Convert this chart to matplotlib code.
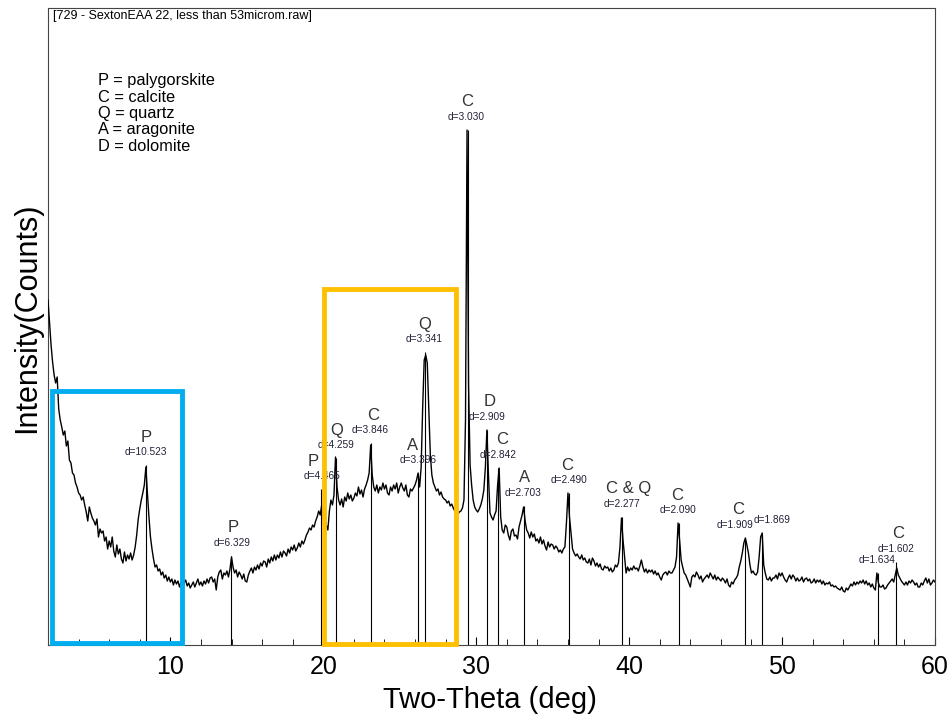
import matplotlib.pyplot as plt
from matplotlib.patches import Rectangle
import numpy as np

plt.rcParams['font.family'] = ['Liberation Sans', 'DejaVu Sans']

title = "[729 - SextonEAA 22, less than 53microm.raw]"
phases = ["P = palygorskite", "C = calcite", "Q = quartz", "A = aragonite", "D = dolomite"]

# scan from 2 to 60 deg, step 0.1 deg, intensity in arbitrary counts
two_theta = np.round(np.arange(2.0, 60.05, 0.1), 1)
counts = [
    345, 322, 300, 283, 270, 262, 268, 236, 225, 218,   # 2
    210, 214, 199, 204, 185, 182, 172, 170, 162, 158,   # 3
    152, 150, 145, 148, 140, 133, 124, 138, 132, 127,   # 4
    124, 120, 126, 108, 116, 112, 114, 104, 108, 96,    # 5
    104, 98, 108, 94, 88, 100, 91, 96, 86, 82,          # 6
    93, 84, 90, 86, 92, 85, 90, 98, 110, 126,           # 7
    136, 145, 152, 160, 178, 152, 128, 108, 96, 86,     # 8
    78, 80, 74, 76, 70, 73, 67, 70, 64, 68,             # 9
    63, 66, 60, 65, 61, 64, 58, 63, 53, 62,             # 10
    65, 59, 62, 57, 60, 63, 58, 62, 66, 60,             # 11
    63, 59, 64, 61, 66, 62, 67, 68, 63, 66,             # 12
    55, 68, 73, 75, 66, 72, 70, 74, 68, 76,             # 13
    88, 78, 72, 75, 68, 73, 70, 66, 71, 64,             # 14
    63, 70, 74, 77, 72, 78, 75, 80, 76, 82,             # 15
    79, 84, 83, 78, 86, 82, 88, 84, 90, 85,             # 16
    90, 87, 93, 88, 94, 92, 89, 96, 92, 98,             # 17
    95, 100, 94, 97, 102, 98, 104, 101, 105, 110,       # 18
    113, 117, 115, 120, 118, 124, 128, 134, 130, 140,   # 19
    122, 128, 120, 115, 134, 145, 140, 150, 188, 158,   # 20
    145, 140, 146, 138, 148, 144, 152, 146, 150, 144,   # 21
    147, 152, 149, 158, 151, 155, 148, 156, 160, 165,   # 22
    172, 200, 170, 158, 154, 160, 152, 158, 155, 162,   # 23
    156, 160, 152, 150, 158, 154, 160, 156, 162, 152,   # 24
    158, 162, 157, 154, 160, 150, 148, 156, 154, 157,   # 25
    160, 165, 172, 158, 178, 238, 285, 290, 282, 235,   # 26
    190, 170, 162, 158, 154, 156, 150, 153, 148, 146,   # 27
    145, 142, 144, 139, 141, 137, 134, 136, 131, 133,   # 28
    134, 137, 145, 225, 515, 260, 180, 160, 145, 138,   # 29
    135, 133, 136, 140, 146, 155, 178, 215, 170, 132,   # 30
    128, 125, 130, 134, 160, 177, 128, 115, 112, 120,   # 31
    118, 110, 105, 114, 116, 109, 110, 106, 118, 124,   # 32
    130, 138, 124, 115, 112, 107, 113, 108, 111, 104,   # 33
    106, 102, 108, 101, 105, 99, 95, 103, 98, 101,      # 34
    100, 96, 99, 97, 93, 95, 92, 96, 98, 122,           # 35
    152, 128, 112, 96, 92, 89, 91, 88, 86, 90,          # 36
    85, 87, 83, 82, 86, 80, 87, 84, 79, 82,             # 37
    78, 81, 76, 75, 79, 77, 78, 74, 77, 73,             # 38
    75, 80, 78, 82, 98, 127, 105, 88, 72, 78,           # 39
    74, 77, 75, 79, 76, 77, 74, 79, 85, 78,             # 40
    73, 76, 72, 75, 73, 75, 71, 74, 70, 72,             # 41
    68, 65, 70, 72, 73, 70, 74, 72, 72, 75,             # 42
    78, 88, 122, 105, 85, 78, 72, 70, 66, 62,           # 43
    58, 68, 70, 68, 73, 70, 66, 69, 63, 66,             # 44
    68, 70, 67, 72, 69, 66, 70, 65, 68, 66,             # 45
    64, 67, 65, 62, 66, 60, 58, 63, 61, 65,             # 46
    67, 70, 78, 84, 92, 102, 107, 100, 92, 80,          # 47
    72, 74, 71, 70, 73, 88, 108, 112, 80, 72,           # 48
    66, 65, 68, 64, 67, 67, 70, 66, 72, 69,             # 49
    72, 68, 65, 63, 67, 70, 66, 70, 68, 64,             # 50
    67, 64, 65, 68, 63, 66, 67, 64, 66, 62,             # 51
    63, 66, 62, 65, 63, 65, 61, 64, 60, 62,             # 52
    61, 63, 59, 60, 58, 59, 57, 56, 55, 58,             # 53
    54, 53, 57, 55, 58, 61, 59, 63, 60, 63,             # 54
    61, 64, 62, 65, 61, 64, 60, 62, 58, 61,             # 55
    57, 55, 72, 62, 58, 58, 60, 56, 57, 60,             # 56
    62, 64, 66, 63, 70, 77, 70, 67, 64, 62,             # 57
    60, 63, 60, 64, 62, 65, 63, 60, 62, 58,             # 58
    58, 62, 60, 64, 67, 62, 66, 60, 62, 65,             # 59
    63,                                                 # 60
]

# identified peaks
peak_pos = [8.40, 13.98, 19.87, 20.84, 23.11, 26.22, 26.66, 29.45, 30.71,
            31.45, 33.11, 36.04, 39.55, 43.25, 47.60, 48.68, 56.25, 57.48]
peak_height = [180, 89, 156, 187, 202, 172, 293, 515, 215,
               177, 139, 152, 128, 122, 107, 112, 72, 83]
peak_phase = ["P", "P", "P", "Q", "C", "A", "Q", "C", "D",
              "C", "A", "C", "C & Q", "C", "C", "", "", "C"]
peak_d = ["d=10.523", "d=6.329", "d=4.465", "d=4.259", "d=3.846", "d=3.396",
          "d=3.341", "d=3.030", "d=2.909", "d=2.842", "d=2.703", "d=2.490",
          "d=2.277", "d=2.090", "d=1.909", "d=1.869", "d=1.634", "d=1.602"]
# small sideways shifts of the labels (pixels)
letter_dx = [0, 2, -8, 1, 2, -6, 0, -1, 3, 4, 1, -1, 6, -2, -7, 0, 0, 2]
d_dx = [0, 1, 1, 0, -1, 0, -1, -2, 0, 0, -1, 0, 0, -1, -10, 10, -1, 0]

fig = plt.figure(figsize=(9.49, 7.2), dpi=100)
ax = fig.add_axes([48 / 949, 75 / 720, 887 / 949, 637 / 720])

ax.plot(two_theta, counts, color='black', lw=1.0, zorder=3)
ax.vlines(peak_pos, 0, peak_height, color='black', lw=0.8, zorder=2)

for x, h, ph, d, dx, ddx in zip(peak_pos, peak_height, peak_phase, peak_d, letter_dx, d_dx):
    if ph:
        ax.annotate(ph, (x, h), xytext=(dx, 28), textcoords='offset pixels',
                    ha='center', va='center', fontsize=12, color='#333333')
    ax.annotate(d, (x, h), xytext=(ddx, 13), textcoords='offset pixels',
                ha='center', va='center', fontsize=7.3, color='#222238')

# highlight boxes
ax.add_patch(Rectangle((2.26, 2), 10.76 - 2.26, 252, fill=False, ec='#00AEEF',
                       lw=3.5, clip_on=False, zorder=6))
ax.add_patch(Rectangle((20.07, 1), 28.68 - 20.07, 355, fill=False, ec='#FFC000',
                       lw=3.5, clip_on=False, zorder=6))

ax.set_xlim(2, 60)
ax.set_ylim(0, 637)
ax.set_yticks([])
ax.set_xticks(range(10, 61, 10))
ax.set_xticks(np.arange(4, 60, 2), minor=True)
ax.tick_params(axis='x', which='major', direction='in', length=6, labelsize=18, pad=7)
ax.tick_params(axis='x', which='minor', direction='in', length=4)
for s in ax.spines.values():
    s.set_color('#444444')
    s.set_linewidth(0.8)

fig.text(53 / 949, 1 - 16 / 720, title, va='center', fontsize=9)
for i, t in enumerate(phases):
    fig.text(98 / 949, 1 - (81 + i * 16.3) / 720, t, va='center', fontsize=11.8)

fig.text(490 / 949, 1 - 700 / 720, "Two-Theta (deg)", ha='center', va='center', fontsize=21)
fig.text(27 / 949, 1 - 318 / 720, "Intensity(Counts)", ha='center', va='center',
         rotation=90, fontsize=22)

fig.savefig("out.png", dpi=100)
